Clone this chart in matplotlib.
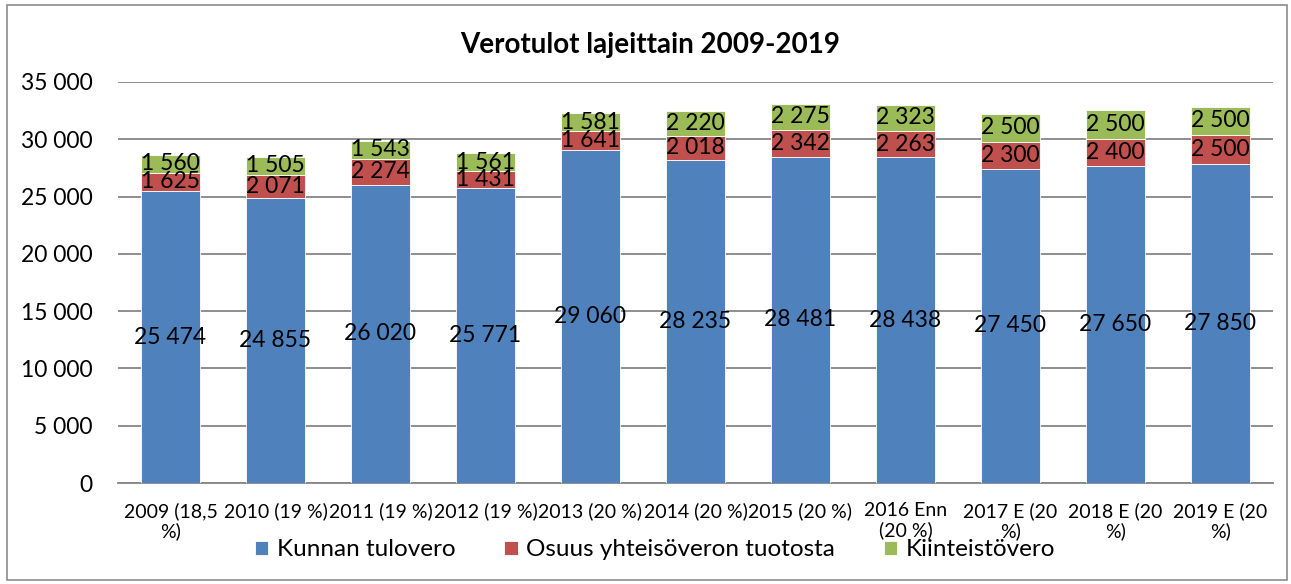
import matplotlib
matplotlib.use("Agg")
import matplotlib.pyplot as plt
from matplotlib.patches import Rectangle
import numpy as np

categories = ["2009 (18,5\n%)", "2010 (19 %)", "2011 (19 %)", "2012 (19 %)", "2013 (20 %)",
              "2014 (20 %)", "2015 (20 %)", "2016 Enn\n(20 %)", "2017 E (20\n%)",
              "2018 E (20\n%)", "2019 E (20\n%)"]
kunnan = [25474, 24855, 26020, 25771, 29060, 28235, 28481, 28438, 27450, 27650, 27850]
osuus = [1625, 2071, 2274, 1431, 1641, 2018, 2342, 2263, 2300, 2400, 2500]
kiint = [1560, 1505, 1543, 1561, 1581, 2220, 2275, 2323, 2500, 2500, 2500]
series_names = ["Kunnan tulovero", "Osuus yhteisöveron tuotosta", "Kiinteistövero"]
colors = ["#4F81BD", "#C0504D", "#9BBB59"]

plt.rcParams['font.family'] = ['Lato', 'DejaVu Sans']

fig = plt.figure(figsize=(12.91, 5.84), dpi=100)
fig.patches.append(Rectangle((7/1291, 4/584), 1280/1291, 575/584, transform=fig.transFigure,
                             fill=False, edgecolor="#8c8c8c", linewidth=1.2))
ax = fig.add_axes([118/1291, 1-483/584, 1155/1291, 401/584])

def fmt(v):
    return f"{v:,}".replace(",", " ")

x = np.arange(len(categories))
w = 0.57
bottom = np.zeros(len(categories))
for vals, col, name in zip([kunnan, osuus, kiint], colors, series_names):
    vals = np.array(vals)
    ax.bar(x, vals, w, bottom=bottom, color=col, edgecolor="white", linewidth=0.6, label=name, zorder=3)
    for xi, b, v in zip(x, bottom, vals):
        ax.text(xi, b + v / 2, fmt(int(v)), ha="center", va="center", fontsize=16.5, color="black", zorder=4)
    bottom = bottom + vals

ax.set_xlim(-0.5, len(categories) - 0.5)
ax.set_ylim(0, 35000)
yt = np.arange(0, 35001, 5000)
ax.set_yticks(yt)
ax.set_yticklabels([fmt(int(v)) for v in yt], fontsize=16.5)
ax.set_xticks(x)
ax.set_xticklabels(categories, fontsize=14, linespacing=1.15)
ax.tick_params(axis="both", length=0)
ax.tick_params(axis="y", pad=18.5)
ax.tick_params(axis="x", pad=14)
ax.grid(axis="y", color="#868686", linewidth=1.3, zorder=0)
for s in ["top", "right", "left"]:
    ax.spines[s].set_visible(False)
ax.spines["bottom"].set_color("#868686")
ax.spines["bottom"].set_linewidth(1.3)

fig.text(650/1291, 1-45/584, "Verotulot lajeittain 2009-2019", ha="center", va="center",
         fontsize=20, fontweight="bold")

fig.legend(loc="center", bbox_to_anchor=(655/1291, 1-550/584), ncol=3, frameon=False,
           fontsize=17.5, handlelength=0.55, handleheight=0.55, handletextpad=0.35, columnspacing=2.0)

fig.savefig("out.png", dpi=100)
